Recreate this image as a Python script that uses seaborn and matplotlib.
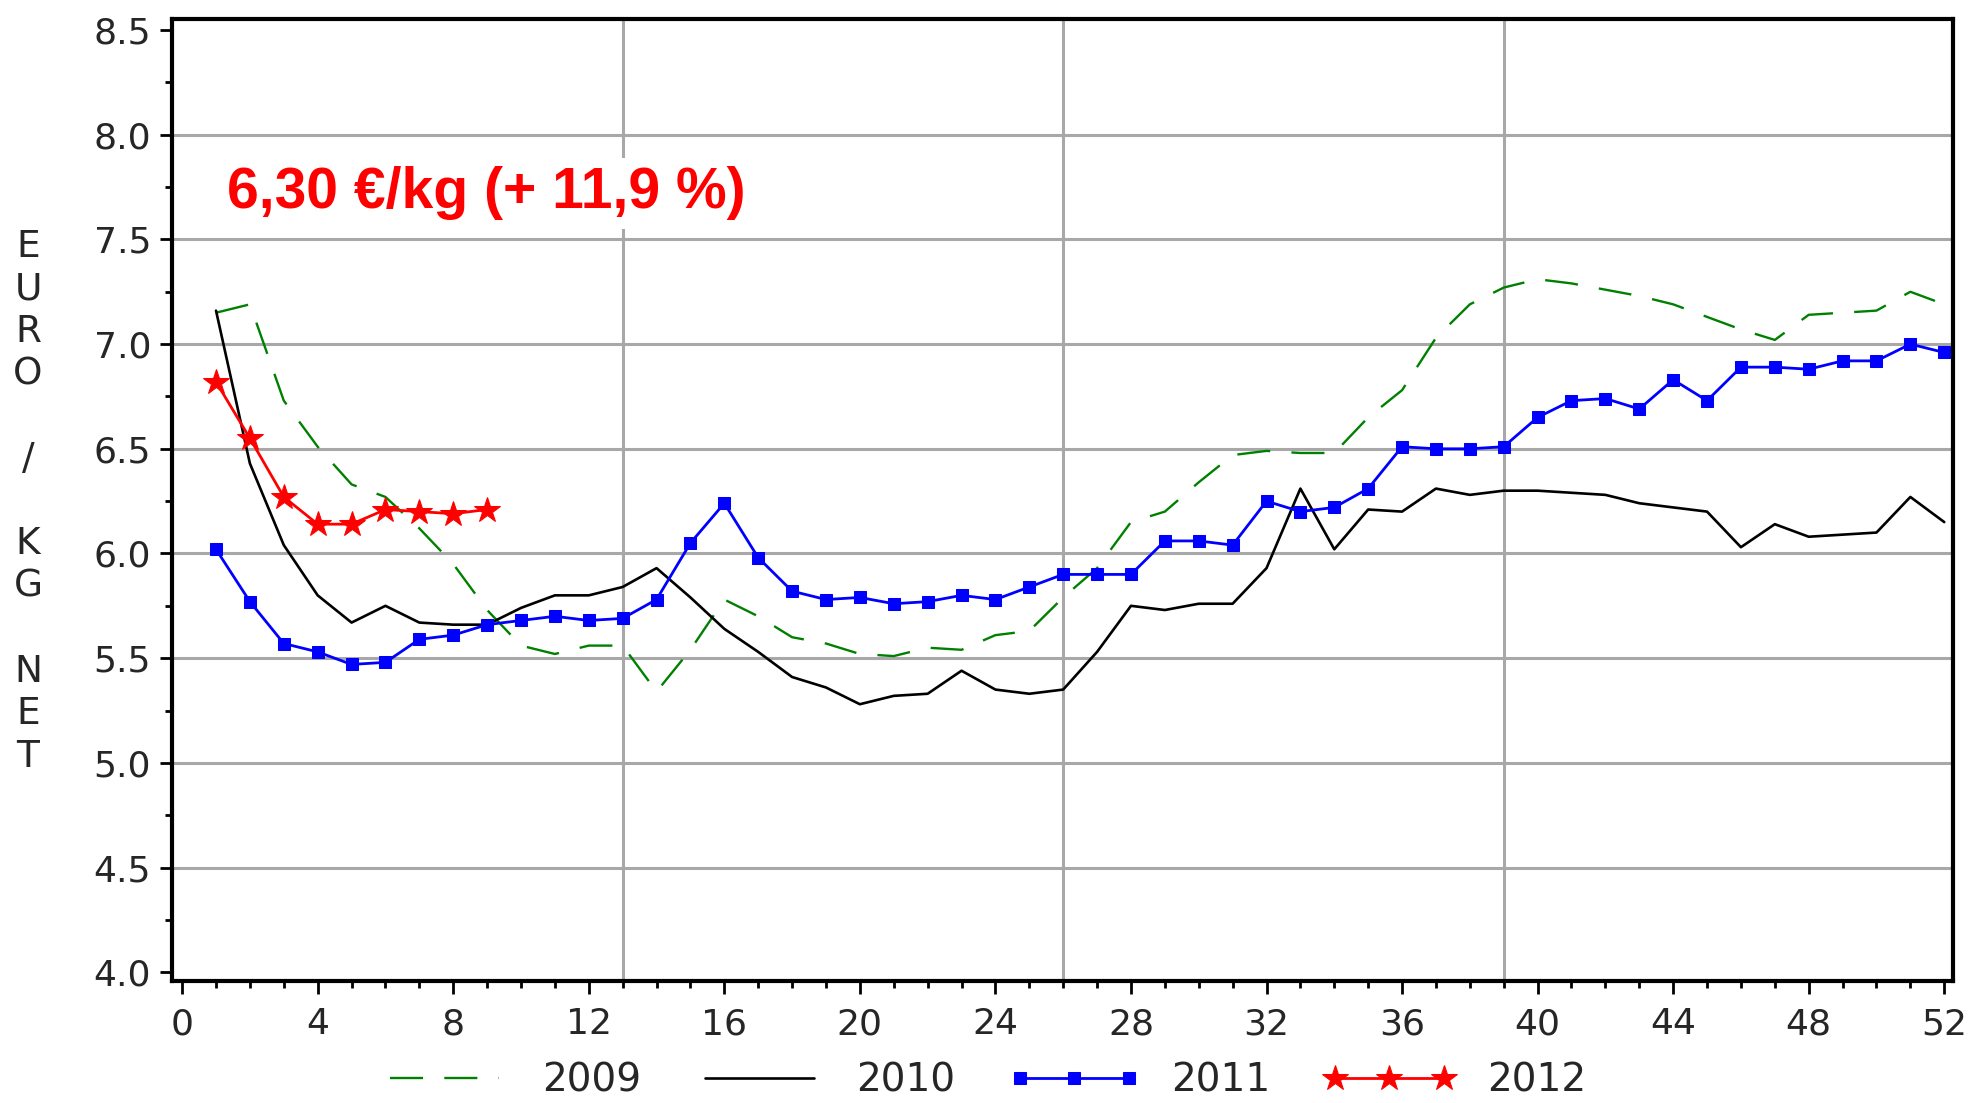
import matplotlib
matplotlib.use("Agg")
import numpy as np
import matplotlib.pyplot as plt
import seaborn as sns

# weekly prices, EURO / KG NET
weeks = list(range(1, 53))
price_2009 = [7.15, 7.19, 6.73, 6.51, 6.33, 6.27, 6.12, 5.95, 5.73, 5.56,
              5.52, 5.56, 5.56, 5.34, 5.54, 5.78, 5.70, 5.60, 5.57, 5.52,
              5.51, 5.55, 5.54, 5.61, 5.63, 5.79, 5.93, 6.15, 6.20, 6.34,
              6.47, 6.49, 6.48, 6.48, 6.65, 6.78, 7.03, 7.19, 7.27, 7.31,
              7.29, 7.26, 7.23, 7.19, 7.13, 7.07, 7.02, 7.14, 7.15, 7.16,
              7.25, 7.19]
price_2010 = [7.16, 6.43, 6.04, 5.80, 5.67, 5.75, 5.67, 5.66, 5.66, 5.74,
              5.80, 5.80, 5.84, 5.93, 5.79, 5.64, 5.53, 5.41, 5.36, 5.28,
              5.32, 5.33, 5.44, 5.35, 5.33, 5.35, 5.53, 5.75, 5.73, 5.76,
              5.76, 5.93, 6.31, 6.02, 6.21, 6.20, 6.31, 6.28, 6.30, 6.30,
              6.29, 6.28, 6.24, 6.22, 6.20, 6.03, 6.14, 6.08, 6.09, 6.10,
              6.27, 6.15]
price_2011 = [6.02, 5.77, 5.57, 5.53, 5.47, 5.48, 5.59, 5.61, 5.66, 5.68,
              5.70, 5.68, 5.69, 5.78, 6.05, 6.24, 5.98, 5.82, 5.78, 5.79,
              5.76, 5.77, 5.80, 5.78, 5.84, 5.90, 5.90, 5.90, 6.06, 6.06,
              6.04, 6.25, 6.20, 6.22, 6.31, 6.51, 6.50, 6.50, 6.51, 6.65,
              6.73, 6.74, 6.69, 6.83, 6.73, 6.89, 6.89, 6.88, 6.92, 6.92,
              7.00, 6.96]
weeks_2012 = list(range(1, 10))
price_2012 = [6.82, 6.55, 6.27, 6.14, 6.14, 6.21, 6.20, 6.19, 6.21]

x_ticks = list(range(0, 53, 4))
y_ticks = [4.0, 4.5, 5.0, 5.5, 6.0, 6.5, 7.0, 7.5, 8.0, 8.5]
week_grid = [13, 26, 39]
annotation = '6,30 €/kg (+ 11,9 %)'
y_label = 'E\nU\nR\nO\n\n/\n\nK\nG\n\nN\nE\nT'

sns.set_style('white')
plt.rcParams['font.family'] = ['DejaVu Sans']

fig = plt.figure(figsize=(19.72, 11.03), dpi=100)
ax = fig.add_axes([0.0872, 0.1106, 0.9032, 0.8722])

# reference grid
for y in y_ticks[1:-1]:
    ax.axhline(y, color='#a8a8a8', lw=2.2, zorder=0)
for x in week_grid:
    ax.axvline(x, color='#a8a8a8', lw=2.2, zorder=0)

sns.lineplot(x=weeks, y=price_2009, ax=ax, color='#008000', lw=1.7,
             linestyle=(0, (14, 9)), label='2009')
sns.lineplot(x=weeks, y=price_2010, ax=ax, color='black', lw=1.9,
             label='2010')
sns.lineplot(x=weeks, y=price_2011, ax=ax, color='#0000ff', lw=2.0,
             marker='s', markersize=9, markeredgecolor='#0000ff', label='2011')
sns.lineplot(x=weeks_2012, y=price_2012, ax=ax, color='#ff0000', lw=2.0,
             marker='*', markersize=19, markeredgecolor='#ff0000', label='2012')

ax.set_xlim(-0.3, 52.26)
ax.set_ylim(3.958, 8.553)
ax.set_xticks(x_ticks)
ax.set_xticks(range(0, 53), minor=True)
ax.set_yticks(y_ticks)
ax.set_yticklabels([f'{v:.1f}' for v in y_ticks])
ax.set_yticks(np.arange(4.0, 8.51, 0.25), minor=True)
ax.tick_params(which='major', direction='out', length=9, width=2,
               labelsize=26, left=True, bottom=True, color='black')
ax.tick_params(which='minor', direction='out', length=5, width=2,
               left=True, bottom=True, color='black')
ax.tick_params(axis='x', pad=10)
ax.tick_params(axis='y', pad=6)
for s in ax.spines.values():
    s.set_linewidth(3)
    s.set_color('black')
ax.set_xlabel('')
ax.set_ylabel('')

ax.text(1.33, 7.72, annotation, color='#ff0000', fontsize=41,
        fontweight='bold', family=['Liberation Sans', 'DejaVu Sans'],
        ha='left', va='center',
        bbox=dict(facecolor='white', edgecolor='none', pad=6))

fig.text(28 / 1972, 0.545, y_label,
         ha='center', va='center', fontsize=27, linespacing=1.23)

handles, labels = ax.get_legend_handles_labels()
ax.get_legend().remove()
fig.legend(handles, labels, loc='center', bbox_to_anchor=(0.498, 0.02),
           ncol=4, frameon=False, fontsize=28, handlelength=3.4,
           numpoints=3, columnspacing=1.35, handletextpad=0.8)

fig.savefig('out.png', dpi=100, facecolor='white')
